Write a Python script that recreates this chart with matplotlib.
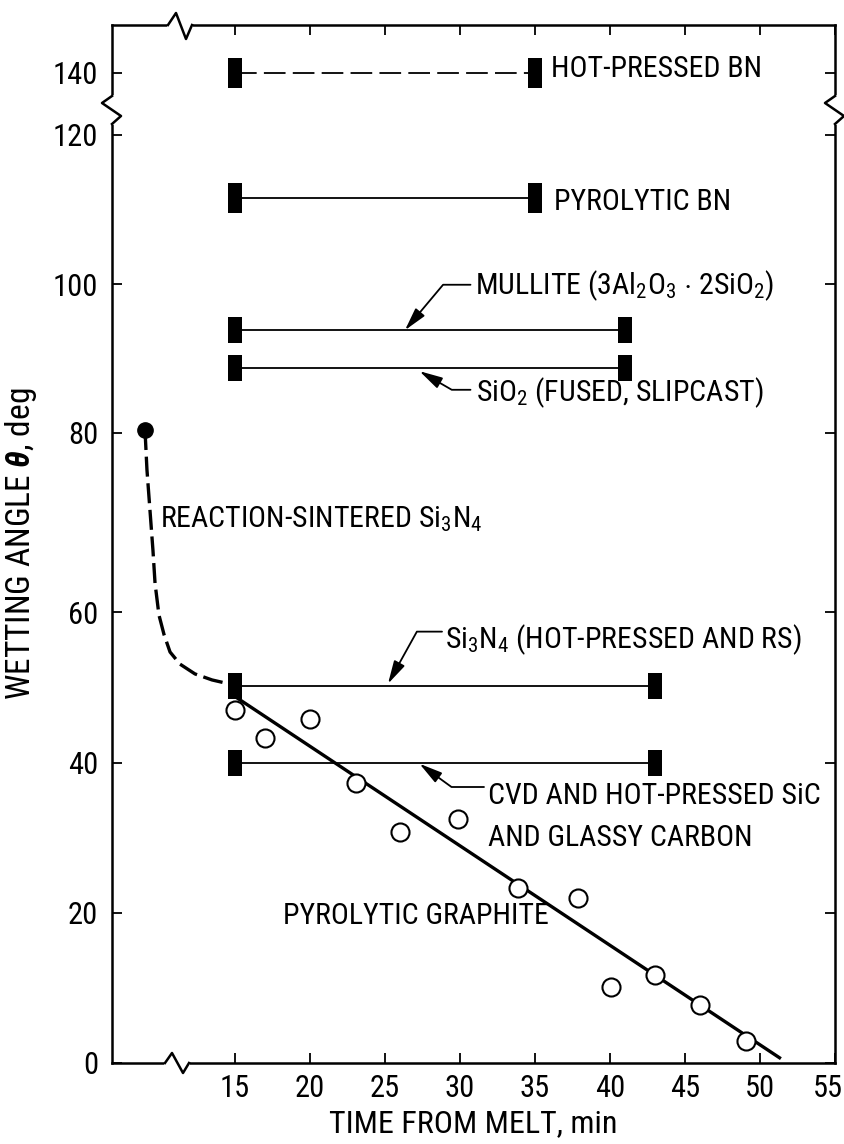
import numpy as np
import matplotlib
matplotlib.use("Agg")
import matplotlib.pyplot as plt
from matplotlib import font_manager
from matplotlib.lines import Line2D
from matplotlib.path import Path
from matplotlib.transforms import ScaledTranslation

# Wetting angle of molten Si on crucible materials vs time from melt

# range bars for each material (start time, end time, angle)
bar_names = ["HOT-PRESSED BN", "PYROLYTIC BN", "MULLITE", "SiO2", "Si3N4", "CVD SiC"]
bar_start = [15, 15, 15, 15, 15, 15]
bar_end = [35, 35, 41, 41, 43, 43]
bar_angle = [140, 111.5, 93.8, 88.7, 50.2, 40]

# reaction-sintered Si3N4 (dashed curve from the melt point)
rs_time = [9.0, 9.13, 9.33, 9.53, 9.67, 9.93, 10.27, 10.67, 11.33, 12.33, 13.47, 15.0]
rs_angle = [80.4, 75.9, 71.4, 66.9, 63.2, 59.6, 57.0, 54.7, 53.1, 51.8, 51.0, 50.3]

# pyrolytic graphite measurements and fitted line
pg_time = [15, 17, 20, 23.1, 26, 29.9, 33.9, 37.9, 40.1, 43, 46, 49.1]
pg_angle = [47.0, 43.3, 45.8, 37.3, 30.8, 32.5, 23.3, 22.0, 10.2, 11.8, 7.8, 3.0]
fit_time = [15, 51.3]
fit_angle = [48.8, 0.7]

x_ticks = [15, 20, 25, 30, 35, 40, 45, 50, 55]
y_ticks = [0, 20, 40, 60, 80, 100, 120, 140]

# the drawn angle axis is uneven and broken between 120 and 140
y_knots = [-100, 0, 20, 40, 60, 80, 100, 120, 140, 300]
y_draw = [-750, 0, 150, 300, 451, 630, 779, 928, 990, 2190]


def fwd(y):
    return np.interp(y, y_knots, y_draw)


def inv(p):
    return np.interp(p, y_draw, y_knots)


# look for a narrow face like the lettering on the original
def find_narrow():
    pref = ["Liberation", "Roboto", "Open Sans", "Noto Sans", "DejaVu Sans", "Lato", "Inter"]
    found = []
    for f in font_manager.fontManager.ttflist:
        if f.style != "normal" or f.weight not in (400, "normal", "regular", "book"):
            continue
        if "Mono" in f.name or "CJK" in f.name or "Serif" in f.name:
            continue
        tag = "Narrow" in f.name or "Condensed" in f.name
        if tag or str(f.stretch) in ("condensed", "semi-condensed"):
            rank = next((i for i, p in enumerate(pref) if f.name.startswith(p)), 99)
            found.append((rank, f.name, "normal" if tag else str(f.stretch)))
    found.sort()
    return found[0][1:] if found else None


nf = find_narrow()
if nf:
    fam, stretch = nf
    k = 1.0
else:
    fam, stretch = "Liberation Sans", "normal"
    k = 0.85
fs = 21.5 * k
tfs = 22 * k
afs = 23 * k
plt.rcParams["font.family"] = [fam, "DejaVu Sans"]
plt.rcParams["font.stretch"] = stretch
extra = "" if stretch == "normal" else ":stretch=" + stretch
plt.rcParams["mathtext.fontset"] = "custom"
plt.rcParams["mathtext.rm"] = fam + extra
plt.rcParams["mathtext.it"] = fam + ":italic:bold" + extra
plt.rcParams["mathtext.bf"] = fam + ":bold" + extra

W, H = 845, 1144
fig = plt.figure(figsize=(W / 100, H / 100), dpi=100)
L, R, T, B = 112, 835, 25, 1063
ax = fig.add_axes([L / W, 1 - B / H, (R - L) / W, (B - T) / H])
ax.set_yscale("function", functions=(fwd, inv))
ax.set_xlim(6.8, 55)
ax.set_ylim(0, 146.4)

ink = "black"

# range bars
rect = Path([(-0.5, -1), (0.5, -1), (0.5, 1), (-0.5, 1), (-0.5, -1)])
for i, name in enumerate(bar_names):
    ls = (0, (12, 4)) if name == "HOT-PRESSED BN" else "-"
    ax.plot([bar_start[i], bar_end[i]], [bar_angle[i], bar_angle[i]],
            color=ink, lw=1.3, ls=ls, zorder=2)
    ms = 21 if "BN" in name else 19
    ax.plot([bar_start[i], bar_end[i]], [bar_angle[i], bar_angle[i]], ls="none",
            marker=rect, ms=ms, mfc=ink, mec=ink, mew=0, zorder=3)

# reaction-sintered curve
ax.plot(rs_time, rs_angle, color=ink, lw=2.4, dashes=(6, 2), zorder=2)
ax.plot(rs_time[0], rs_angle[0], "o", ms=11, color=ink, zorder=4)

# graphite
ax.plot(fit_time, fit_angle, color=ink, lw=2.4, zorder=2)
ax.plot(pg_time, pg_angle, "o", ms=13, mfc="white", mec=ink, mew=1.5, zorder=4)

# labels
ax.text(36.1, 138.8, "HOT-PRESSED BN", fontsize=fs, va="baseline")
ax.text(36.3, 110.0, "PYROLYTIC BN", fontsize=fs, va="baseline")
ax.text(31.0, 98.6, r"MULLITE (3Al$_2$O$_3$ $\cdot$ 2SiO$_2$)", fontsize=fs, va="baseline")
ax.text(31.1, 84.3, r"SiO$_2$ (FUSED, SLIPCAST)", fontsize=fs, va="baseline")
ax.text(10.0, 69.5, r"REACTION-SINTERED Si$_3$N$_4$", fontsize=fs, va="baseline")
ax.text(29.0, 55.2, r"Si$_3$N$_4$ (HOT-PRESSED AND RS)", fontsize=fs, va="baseline")
ax.text(31.9, 34.6, "CVD AND HOT-PRESSED SiC", fontsize=fs, va="baseline")
ax.text(31.9, 29.0, "AND GLASSY CARBON", fontsize=fs, va="baseline")
ax.text(18.2, 18.6, "PYROLYTIC GRAPHITE", fontsize=fs, va="baseline")

# leaders with arrow heads
arrow = dict(arrowstyle="-|>,head_length=0.7,head_width=0.18", color=ink, lw=1.3,
             shrinkA=0, shrinkB=0, mutation_scale=20)
leaders = [((26.33, 93.8), (30.7, 99.9), "angle,angleA=0,angleB=50,rad=0"),
           ((27.3, 88.3), (30.7, 85.8), "angle,angleA=0,angleB=-30,rad=0"),
           ((25.2, 50.5), (28.8, 57.4), "angle,angleA=0,angleB=61,rad=0"),
           ((27.3, 39.9), (31.6, 36.8), "angle,angleA=0,angleB=-36,rad=0")]
for tip, start, cs in leaders:
    ax.annotate("", xy=tip, xytext=start, arrowprops=dict(arrow, connectionstyle=cs))

# axes and ticks
ax.set_xticks(x_ticks)
ax.set_yticks(y_ticks)
ax.minorticks_off()
ax.tick_params(direction="in", length=7, width=1.3, top=True, right=True,
               labelsize=tfs, colors=ink)
ax.tick_params(axis="y", pad=10)
ax.tick_params(axis="x", pad=8)
for s in ax.spines.values():
    s.set_linewidth(1.8)
ax.set_xlabel("TIME FROM MELT, min", fontsize=afs, labelpad=4)
ax.set_ylabel(r"WETTING ANGLE $\theta$, deg", fontsize=afs + 1, labelpad=10)

# keep the last time label inside the page
fig.canvas.draw()
last = ax.get_xticklabels()[-1]
last.set_transform(last.get_transform() + ScaledTranslation(-0.07, 0, fig.dpi_scale_trans))


# break marks drawn over the frame (pixel coordinates of the page)
def zig(pts, gap):
    fx = [p[0] / W for p in gap]
    fy = [1 - p[1] / H for p in gap]
    fig.add_artist(Line2D(fx, fy, color="white", lw=4, transform=fig.transFigure, zorder=10))
    fx = [p[0] / W for p in pts]
    fy = [1 - p[1] / H for p in pts]
    fig.add_artist(Line2D(fx, fy, color=ink, lw=1.8, transform=fig.transFigure, zorder=11))


zig([(168, T), (176, T - 12), (186, T + 14), (192, T)], [(170, T), (190, T)])
zig([(165, B), (172, B - 10), (183, B + 10), (189, B)], [(167, B), (187, B)])
zig([(L, 96), (L - 10, 103), (L + 9, 116), (L, 124)], [(L, 98), (L, 122)])
zig([(R, 96), (R - 10, 103), (R + 9, 116), (R, 124)], [(R, 98), (R, 122)])

fig.savefig("out.png", dpi=100)
